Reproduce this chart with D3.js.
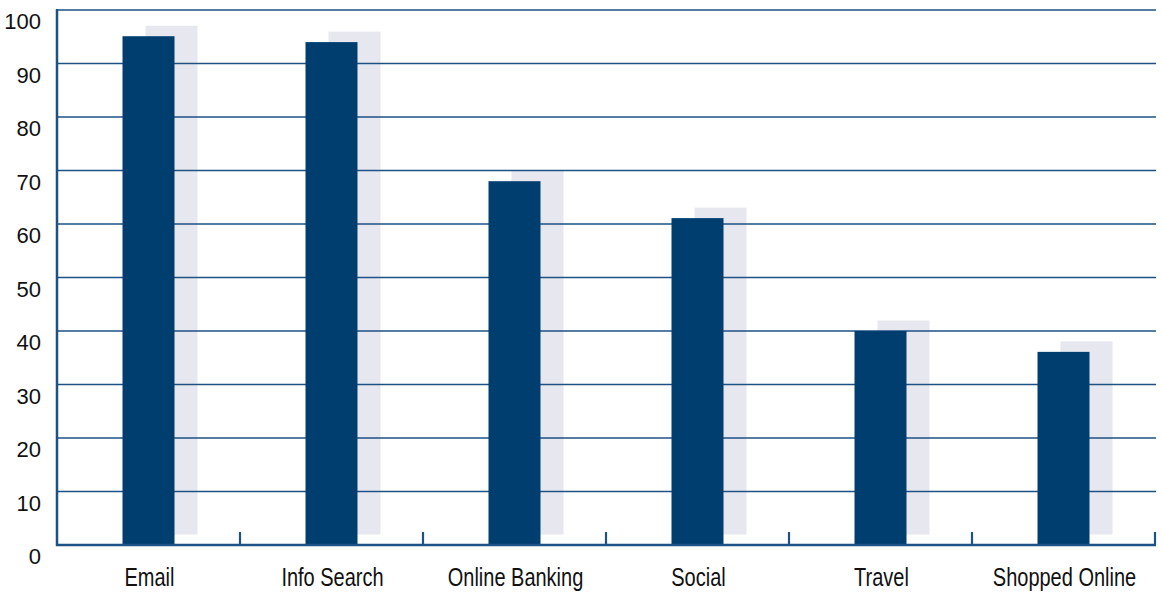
<!doctype html>
<html>
<head>
<script src="https://d3js.org/d3.v7.min.js"></script>
<style>
  body { margin: 0; background: #fff; }
  text { font-family: "Liberation Sans", Arial, Helvetica, sans-serif; fill: #111; }
</style>
</head>
<body>
<svg id="chart" width="1162" height="592"></svg>
<script>
// chart data
var categories = ["Email", "Info Search", "Online Banking", "Social", "Travel", "Shopped Online"];
var values = [95.1, 94.0, 68.0, 61.1, 40.0, 36.1];
var yTicks = [0, 10, 20, 30, 40, 50, 60, 70, 80, 90, 100];

var svg = d3.select("#chart");
var plotLeft = 57, plotRight = 1155, plotTop = 10, plotBottom = 545;

var x = d3.scaleBand().domain(categories).range([plotLeft, plotRight]);
var y = d3.scaleLinear().domain([0, 100]).range([plotBottom, plotTop]);

var barW = 52, shadowDx = 23, shadowDy = 10.5;
var navy = "#003e70", lineCol = "#1e5184";

// shadow bars (offset up/right)
svg.append("g").selectAll("rect")
  .data(values)
  .enter().append("rect")
  .attr("x", function(d, i) { return x(categories[i]) + x.bandwidth() / 2 - barW / 2 + shadowDx; })
  .attr("y", function(d) { return y(d) - shadowDy; })
  .attr("width", barW)
  .attr("height", function(d) { return plotBottom - y(d); })
  .attr("fill", "#e7e8ef");

// grid lines
svg.append("g").selectAll("line")
  .data(yTicks.filter(function(t) { return t > 0; }))
  .enter().append("line")
  .attr("x1", plotLeft).attr("x2", plotRight + 1)
  .attr("y1", function(d) { return y(d); })
  .attr("y2", function(d) { return y(d); })
  .attr("stroke", lineCol)
  .attr("stroke-width", 1.6);

// main bars
svg.append("g").selectAll("rect")
  .data(values)
  .enter().append("rect")
  .attr("x", function(d, i) { return x(categories[i]) + x.bandwidth() / 2 - barW / 2; })
  .attr("y", function(d) { return y(d); })
  .attr("width", barW)
  .attr("height", function(d) { return plotBottom - y(d); })
  .attr("fill", navy);

// axis lines
svg.append("line")
  .attr("x1", plotLeft).attr("x2", plotLeft)
  .attr("y1", plotTop - 1).attr("y2", plotBottom + 1)
  .attr("stroke", lineCol).attr("stroke-width", 2.5);
svg.append("line")
  .attr("x1", plotLeft - 1).attr("x2", plotRight + 1)
  .attr("y1", plotBottom).attr("y2", plotBottom)
  .attr("stroke", lineCol).attr("stroke-width", 2.5);

// category boundary ticks
var bounds = categories.slice(1).map(function(c) { return x(c); }).concat([plotRight]);
svg.append("g").selectAll("line")
  .data(bounds)
  .enter().append("line")
  .attr("x1", function(d) { return d; }).attr("x2", function(d) { return d; })
  .attr("y1", plotBottom).attr("y2", plotBottom - 13)
  .attr("stroke", lineCol).attr("stroke-width", 2.2);

// y labels
svg.append("g").selectAll("text")
  .data(yTicks)
  .enter().append("text")
  .attr("x", 41)
  .attr("y", function(d) { return y(d) + 19; })
  .attr("text-anchor", "end")
  .style("font-size", "22px")
  .text(function(d) { return d; });

// x labels (condensed look)
svg.append("g").selectAll("text")
  .data(categories)
  .enter().append("text")
  .attr("transform", function(d) {
    return "translate(" + (x(d) + x.bandwidth() / 2 + 1) + ",586) scale(0.8,1)";
  })
  .attr("text-anchor", "middle")
  .style("font-size", "25px")
  .text(function(d) { return d; });
</script>
</body>
</html>
